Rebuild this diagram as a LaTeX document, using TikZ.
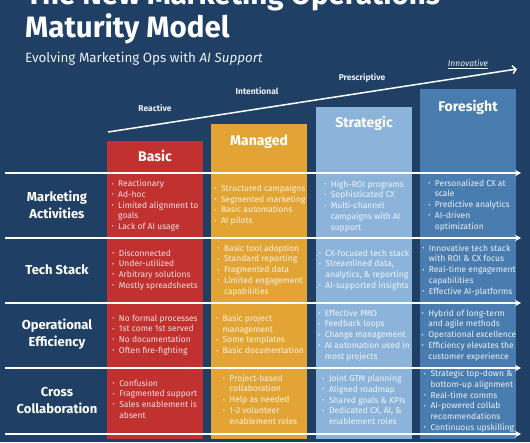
\documentclass[tikz,border=0pt]{standalone}
\usepackage{fontspec}
\setmainfont{Fira Sans}
\usetikzlibrary{arrows.meta}
\definecolor{navy}{RGB}{31,63,101}
\definecolor{cred}{RGB}{192,49,48}
\definecolor{corange}{RGB}{226,165,53}
\definecolor{clight}{RGB}{140,180,218}
\definecolor{cblue}{RGB}{74,125,175}
\newcommand\Bu{\raisebox{0.6pt}{\fontsize{6.5}{6.5}\selectfont\textbullet}}
\newcommand\cellt[1]{\begin{tabular}{@{}l@{\hspace{4.5pt}}l@{}}#1\end{tabular}}
\tikzset{
  colbox/.style={draw=none, anchor=north west, minimum width=96pt, inner sep=0pt},
  headlbl/.style={text=white, font=\bfseries\fontsize{14}{16}\selectfont, anchor=base},
  stagelbl/.style={text=white!92!navy, font=\bfseries\fontsize{8.5}{10}\selectfont, anchor=center},
  rowlbl/.style={text=white, font=\bfseries\fontsize{13}{17}\selectfont, align=center, anchor=center},
  cell/.style={font=\fontsize{8.5}{10.7}\selectfont, anchor=center, inner sep=0pt},
  hline/.style={white, line width=1.6pt, -{Stealth[length=6pt,width=6.5pt]}},
  diag/.style={white, line width=1.5pt, -{Straight Barb[length=3.5pt,width=8pt]}}
}
\begin{document}
\begin{tikzpicture}[x=1pt,y=-1pt]
\useasboundingbox (0,0) rectangle (530,442);
\clip (0,0) rectangle (530,442);
\fill[navy] (0,0) rectangle (530,442);
% title
\node[anchor=base west, inner sep=0pt, text=white, font=\bfseries\fontsize{29.5}{33}\selectfont] (t1) at (26,4) {The New Marketing Operations};
\node[anchor=base west, inner sep=0pt, text=white, font=\bfseries\fontsize{29.5}{33}\selectfont] (t2) at (25,37) {Maturity Model};
\node[anchor=base west, inner sep=0pt, text=white!92!navy, font=\fontsize{13.4}{16}\selectfont] (sub) at (25,62) {Evolving Marketing Ops with \textit{AI Support}};
% diagonal arrow
\coordinate (a0) at (108,132);
\coordinate (a1) at (517,69);
\draw[diag] (a0) -- (a1);
\node[stagelbl] (s1) at (155,108) {Reactive};
\node[stagelbl] (s2) at (257,91) {Intentional};
\node[stagelbl] (s3) at (362,78) {Prescriptive};
\node[stagelbl, font=\itshape\fontsize{8.5}{10}\selectfont] (s4) at (468,64) {\underline{Innovative}};
% columns
\node[colbox, fill=cred, minimum height=298pt] (cbasic) at (107,141) {};
\node[colbox, fill=corange, minimum height=315pt] (cman) at (211,124) {};
\node[colbox, fill=clight, minimum height=332pt] (cstr) at (316,107) {};
\node[colbox, fill=cblue, minimum height=350pt] (cfor) at (420,89) {};
\node[headlbl] (h1) at (155,161) {Basic};
\node[headlbl] (h2) at (259,145) {Managed};
\node[headlbl] (h3) at (364,127) {Strategic};
\node[headlbl] (h4) at (468,111) {Foresight};
% horizontal arrows
\foreach \i/\y in {1/173,2/238,3/303,4/368,5/434}{
  \coordinate (ls\i) at (5,\y);
  \coordinate (le\i) at (521,\y);
  \draw[hline] (ls\i) -- (le\i);
}
% row labels
\node[rowlbl] (r1) at (57,205) {Marketing\\Activities};
\node[rowlbl] (r2) at (57,269.5) {Tech Stack};
\node[rowlbl] (r3) at (57,334.5) {Operational\\Efficiency};
\node[rowlbl] (r4) at (57,400) {Cross\\Collaboration};
% row 1
\node[cell, text=white!85!cred] (c11) at (155,206) {\cellt{\Bu & Reactionary\\ \Bu & Ad-hoc\\ \Bu & Limited alignment to\\ & goals\\ \Bu & Lack of AI usage}};
\node[cell, text=white!85!corange] (c12) at (260,205.5) {\cellt{\Bu & Structured campaigns\\ \Bu & Segmented marketing\\ \Bu & Basic automations\\ \Bu & AI pilots}};
\node[cell, text=white!85!clight] (c13) at (364,206.5) {\cellt{\Bu & High-ROI programs\\ \Bu & Sophisticated CX\\ \Bu & Multi-channel\\ & campaigns with AI\\ & support}};
\node[cell, text=white!88!cblue] (c14) at (469,205.5) {\cellt{\Bu & Personalized CX at\\ & scale\\ \Bu & Predictive analytics\\ \Bu & AI-driven\\ & optimization}};
% row 2
\node[cell, text=white!85!cred] (c21) at (155,270) {\cellt{\Bu & Disconnected\\ \Bu & Under-utilized\\ \Bu & Arbitrary solutions\\ \Bu & Mostly spreadsheets}};
\node[cell, text=white!85!corange] (c22) at (260,270.5) {\cellt{\Bu & Basic tool adoption\\ \Bu & Standard reporting\\ \Bu & Fragmented data\\ \Bu & Limited engagement\\ & capabilities}};
\node[cell, text=white!85!clight] (c23) at (364,270) {\cellt{\Bu & CX-focused tech stack\\ \Bu & Streamlined data,\\ & analytics, \& reporting\\ \Bu & AI-supported insights}};
\node[cell, text=white!88!cblue] (c24) at (469,270.5) {\cellt{\Bu & Innovative tech stack\\ & with ROI \& CX focus\\ \Bu & Real-time engagement\\ & capabilities\\ \Bu & Effective AI-platforms}};
% row 3
\node[cell, text=white!85!cred] (c31) at (155,335) {\cellt{\Bu & No formal processes\\ \Bu & 1st come 1st served\\ \Bu & No documentation\\ \Bu & Often fire-fighting}};
\node[cell, text=white!85!corange] (c32) at (260,335.5) {\cellt{\Bu & Basic project\\ & management\\ \Bu & Some templates\\ \Bu & Basic documentation}};
\node[cell, text=white!85!clight] (c33) at (364,335.5) {\cellt{\Bu & Effective PMO\\ \Bu & Feedback loops\\ \Bu & Change management\\ \Bu & AI automation used in\\ & most projects}};
\node[cell, text=white!88!cblue] (c34) at (469,335.5) {\cellt{\Bu & Hybrid of long-term\\ & and agile methods\\ \Bu & Operational excellence\\ \Bu & Efficiency elevates the\\ & customer experience}};
% row 4
\node[cell, text=white!85!cred] (c41) at (155,400) {\cellt{\Bu & Confusion\\ \Bu & Fragmented support\\ \Bu & Sales enablement is\\ & absent}};
\node[cell, text=white!85!corange] (c42) at (260,400.5) {\cellt{\Bu & Project-based\\ & collaboration\\ \Bu & Help as needed\\ \Bu & 1-2 volunteer\\ & enablement roles}};
\node[cell, text=white!85!clight] (c43) at (364,401) {\cellt{\Bu & Joint GTM planning\\ \Bu & Aligned roadmap\\ \Bu & Shared goals \& KPIs\\ \Bu & Dedicated CX, AI, \&\\ & enablement roles}};
\node[cell, text=white!88!cblue] (c44) at (469,401.5) {\cellt{\Bu & Strategic top-down \&\\ & bottom-up alignment\\ \Bu & Real-time comms\\ \Bu & AI-powered collab\\ & recommendations\\ \Bu & Continuous upskilling}};
\end{tikzpicture}
\end{document}
